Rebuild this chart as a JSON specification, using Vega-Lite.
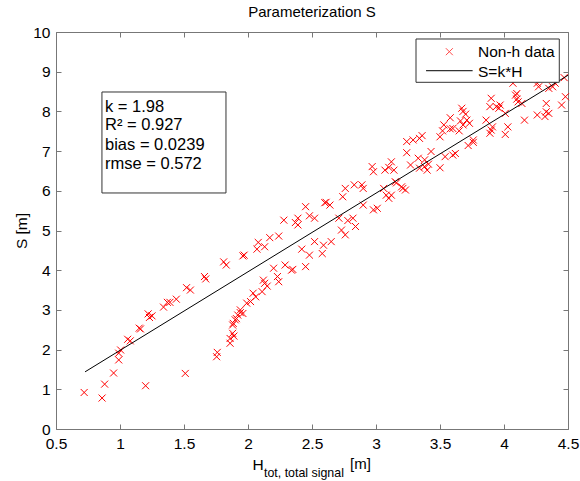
{
  "$schema": "https://vega.github.io/schema/vega-lite/v6.json",
  "width": 512,
  "height": 397,
  "autosize": "none",
  "padding": {"left": 56, "top": 32, "right": 12, "bottom": 52},
  "background": "white",
  "config": {
    "view": {"stroke": "#777777", "strokeWidth": 1},
    "font": "Liberation Sans",
    "axis": {"grid": false, "domain": false, "tickColor": "#777777", "tickSize": -5, "labelFont": "Liberation Sans", "labelFontSize": 15.5, "labelColor": "black", "titleFont": "Liberation Sans", "titleFontWeight": "normal", "titleColor": "black", "titleFontSize": 15.5}
  },
  "datasets": {
    "pts": [
      {"H":0.72,"S":0.92},{"H":0.86,"S":0.78},{"H":0.88,"S":1.13},{"H":0.95,"S":1.41},{"H":0.99,"S":1.74},{"H":0.99,"S":1.91},{"H":1.005,"S":1.99},{"H":1.06,"S":2.26},{"H":1.08,"S":2.22},{"H":1.15,"S":2.54},{"H":1.16,"S":2.52},{"H":1.2,"S":1.09},{"H":1.22,"S":2.9},{"H":1.23,"S":2.81},{"H":1.25,"S":2.85},{"H":1.34,"S":3.07},{"H":1.37,"S":3.19},{"H":1.39,"S":3.19},{"H":1.44,"S":3.27},{"H":1.51,"S":1.4},{"H":1.52,"S":3.56},{"H":1.55,"S":3.5},{"H":1.66,"S":3.84},{"H":1.67,"S":3.78},{"H":1.755,"S":1.82},{"H":1.76,"S":1.93},{"H":1.81,"S":4.21},{"H":1.83,"S":4.13},{"H":1.86,"S":2.16},{"H":1.86,"S":2.28},{"H":1.89,"S":2.34},{"H":1.88,"S":2.41},{"H":1.88,"S":2.62},{"H":1.885,"S":2.66},{"H":1.9,"S":2.75},{"H":1.91,"S":2.78},{"H":1.92,"S":2.87},{"H":1.94,"S":3.0},{"H":1.94,"S":2.93},{"H":1.96,"S":2.91},{"H":1.96,"S":4.36},{"H":1.97,"S":4.38},{"H":1.99,"S":3.17},{"H":2.02,"S":3.21},{"H":2.04,"S":3.42},{"H":2.06,"S":3.33},{"H":2.07,"S":4.53},{"H":2.08,"S":4.7},{"H":2.11,"S":3.46},{"H":2.12,"S":3.75},{"H":2.13,"S":3.67},{"H":2.13,"S":4.59},{"H":2.15,"S":3.6},{"H":2.17,"S":4.82},{"H":2.2,"S":4.05},{"H":2.23,"S":3.84},{"H":2.24,"S":3.71},{"H":2.24,"S":4.86},{"H":2.28,"S":5.26},{"H":2.29,"S":4.13},{"H":2.34,"S":4.0},{"H":2.35,"S":4.02},{"H":2.37,"S":5.2},{"H":2.39,"S":5.31},{"H":2.39,"S":5.14},{"H":2.42,"S":4.53},{"H":2.45,"S":5.6},{"H":2.45,"S":4.09},{"H":2.48,"S":5.37},{"H":2.48,"S":4.38},{"H":2.52,"S":5.31},{"H":2.52,"S":4.72},{"H":2.58,"S":4.42},{"H":2.59,"S":4.63},{"H":2.6,"S":5.7},{"H":2.61,"S":5.71},{"H":2.64,"S":5.64},{"H":2.65,"S":4.72},{"H":2.71,"S":5.31},{"H":2.73,"S":5.01},{"H":2.74,"S":5.85},{"H":2.76,"S":4.89},{"H":2.76,"S":6.06},{"H":2.78,"S":5.25},{"H":2.82,"S":5.31},{"H":2.83,"S":6.15},{"H":2.84,"S":5.1},{"H":2.89,"S":6.15},{"H":2.9,"S":6.06},{"H":2.9,"S":5.64},{"H":2.97,"S":6.61},{"H":2.98,"S":6.48},{"H":2.98,"S":5.52},{"H":3.01,"S":5.56},{"H":3.06,"S":6.06},{"H":3.07,"S":6.52},{"H":3.08,"S":5.89},{"H":3.1,"S":6.59},{"H":3.1,"S":5.81},{"H":3.12,"S":6.73},{"H":3.12,"S":5.89},{"H":3.14,"S":6.52},{"H":3.15,"S":6.23},{"H":3.16,"S":6.2},{"H":3.2,"S":6.1},{"H":3.21,"S":6.06},{"H":3.23,"S":6.02},{"H":3.24,"S":7.24},{"H":3.24,"S":6.96},{"H":3.27,"S":6.65},{"H":3.29,"S":7.28},{"H":3.33,"S":6.82},{"H":3.34,"S":7.32},{"H":3.34,"S":6.57},{"H":3.36,"S":7.39},{"H":3.38,"S":6.61},{"H":3.38,"S":6.78},{"H":3.4,"S":6.52},{"H":3.41,"S":6.67},{"H":3.43,"S":6.99},{"H":3.5,"S":6.58},{"H":3.5,"S":7.36},{"H":3.52,"S":7.51},{"H":3.53,"S":7.66},{"H":3.54,"S":6.86},{"H":3.58,"S":7.84},{"H":3.58,"S":7.56},{"H":3.6,"S":7.57},{"H":3.6,"S":6.9},{"H":3.62,"S":6.94},{"H":3.65,"S":7.51},{"H":3.66,"S":7.76},{"H":3.67,"S":8.08},{"H":3.68,"S":7.66},{"H":3.68,"S":8.0},{"H":3.7,"S":7.93},{"H":3.71,"S":7.78},{"H":3.72,"S":7.14},{"H":3.73,"S":7.7},{"H":3.76,"S":7.22},{"H":3.76,"S":7.28},{"H":3.86,"S":7.78},{"H":3.89,"S":7.45},{"H":3.89,"S":8.12},{"H":3.9,"S":8.33},{"H":3.9,"S":7.53},{"H":3.91,"S":7.61},{"H":3.94,"S":8.12},{"H":3.96,"S":8.08},{"H":3.97,"S":8.16},{"H":4.01,"S":7.42},{"H":4.01,"S":7.95},{"H":4.03,"S":7.61},{"H":4.07,"S":8.71},{"H":4.09,"S":8.41},{"H":4.1,"S":8.31},{"H":4.1,"S":8.45},{"H":4.11,"S":8.24},{"H":4.14,"S":8.2},{"H":4.16,"S":7.78},{"H":4.26,"S":7.91},{"H":4.26,"S":8.71},{"H":4.27,"S":8.62},{"H":4.32,"S":7.87},{"H":4.33,"S":7.99},{"H":4.33,"S":8.2},{"H":4.35,"S":7.95},{"H":4.35,"S":8.58},{"H":4.38,"S":8.62},{"H":4.4,"S":8.71},{"H":4.45,"S":8.16},{"H":4.47,"S":8.85},{"H":4.48,"S":8.37}
    ],
    "fit": [{"H": 0.727, "S": 1.44}, {"H": 4.5, "S": 8.91}],
    "one": [{}]
  },
  "layer": [
    {
      "data": {"name": "pts"},
      "mark": {"type": "point", "shape": "M-1,-1L1,1M-1,1L1,-1", "filled": false, "size": 49, "strokeWidth": 1, "color": "#ff0000", "opacity": 1},
      "encoding": {
        "x": {"field": "H", "type": "quantitative", "scale": {"domain": [0.5, 4.5], "nice": false, "zero": false},
              "axis": {"orient": "bottom", "values": [0.5,1,1.5,2,2.5,3,3.5,4,4.5], "format": "~g", "labelPadding": 12, "title": null, "labelFlush": false}},
        "y": {"field": "S", "type": "quantitative", "scale": {"domain": [0, 10], "nice": false, "zero": false},
              "axis": {"orient": "left", "values": [0,1,2,3,4,5,6,7,8,9,10], "format": "d", "labelPadding": 11, "title": "S [m]", "titlePadding": 3, "labelFlush": false}}
      }
    },
    {
      "data": {"name": "fit"},
      "mark": {"type": "line", "color": "black", "strokeWidth": 1},
      "encoding": {
        "x": {"field": "H", "type": "quantitative", "axis": {"orient": "top", "values": [0.5,1,1.5,2,2.5,3,3.5,4,4.5], "labels": false, "title": null}},
        "y": {"field": "S", "type": "quantitative", "axis": {"orient": "right", "values": [0,1,2,3,4,5,6,7,8,9,10], "labels": false, "title": null}}
      }
    },
    {
      "data": {"name": "one"},
      "mark": {"type": "rect", "fill": "white", "stroke": "#333333", "strokeWidth": 1},
      "encoding": {"x": {"datum": 0.859, "axis": null}, "x2": {"datum": 1.828}, "y": {"datum": 8.489, "axis": null}, "y2": {"datum": 5.945}}
    },
    {
      "data": {"name": "one"},
      "mark": {"type": "text", "align": "left", "baseline": "alphabetic", "fontSize": 16.5, "font": "Liberation Sans", "color": "black"},
      "encoding": {"x": {"datum": 0.883, "axis": null}, "y": {"datum": 7.985, "axis": null}, "text": {"value": "k = 1.98"}}
    },
    {
      "data": {"name": "one"},
      "mark": {"type": "text", "align": "left", "baseline": "alphabetic", "fontSize": 16.5, "font": "Liberation Sans", "color": "black"},
      "encoding": {"x": {"datum": 0.883, "axis": null}, "y": {"datum": 7.532, "axis": null}, "text": {"value": "R² = 0.927"}}
    },
    {
      "data": {"name": "one"},
      "mark": {"type": "text", "align": "left", "baseline": "alphabetic", "fontSize": 16.5, "font": "Liberation Sans", "color": "black"},
      "encoding": {"x": {"datum": 0.883, "axis": null}, "y": {"datum": 7.028, "axis": null}, "text": {"value": "bias = 0.0239"}}
    },
    {
      "data": {"name": "one"},
      "mark": {"type": "text", "align": "left", "baseline": "alphabetic", "fontSize": 16.5, "font": "Liberation Sans", "color": "black"},
      "encoding": {"x": {"datum": 0.883, "axis": null}, "y": {"datum": 6.549, "axis": null}, "text": {"value": "rmse = 0.572"}}
    },
    {
      "data": {"name": "one"},
      "mark": {"type": "rect", "fill": "white", "stroke": "#333333", "strokeWidth": 1},
      "encoding": {"x": {"datum": 3.3125, "axis": null}, "x2": {"datum": 4.432}, "y": {"datum": 9.824, "axis": null}, "y2": {"datum": 8.733}}
    },
    {
      "data": {"name": "one"},
      "mark": {"type": "point", "shape": "M-1,-1L1,1M-1,1L1,-1", "filled": false, "size": 49, "strokeWidth": 1, "color": "#ff0000"},
      "encoding": {"x": {"datum": 3.573, "axis": null}, "y": {"datum": 9.504, "axis": null}}
    },
    {
      "data": {"name": "one"},
      "mark": {"type": "rule", "color": "black", "strokeWidth": 1},
      "encoding": {"x": {"datum": 3.391, "axis": null}, "x2": {"datum": 3.755}, "y": {"datum": 9.025, "axis": null}}
    },
    {
      "data": {"name": "one"},
      "mark": {"type": "text", "align": "left", "baseline": "alphabetic", "fontSize": 15.5, "font": "Liberation Sans", "color": "black"},
      "encoding": {"x": {"datum": 3.797, "axis": null}, "y": {"datum": 9.378, "axis": null}, "text": {"value": "Non-h data"}}
    },
    {
      "data": {"name": "one"},
      "mark": {"type": "text", "align": "left", "baseline": "alphabetic", "fontSize": 15.5, "font": "Liberation Sans", "color": "black"},
      "encoding": {"x": {"datum": 3.797, "axis": null}, "y": {"datum": 8.874, "axis": null}, "text": {"value": "S=k*H"}}
    },
    {
      "data": {"name": "one"},
      "mark": {"type": "text", "align": "left", "baseline": "alphabetic", "fontSize": 15.5, "font": "Liberation Sans", "color": "black"},
      "encoding": {"x": {"datum": 2.036, "axis": null}, "y": {"datum": -1.03, "axis": null}, "text": {"value": "H"}}
    },
    {
      "data": {"name": "one"},
      "mark": {"type": "text", "align": "left", "baseline": "alphabetic", "fontSize": 12.4, "font": "Liberation Sans", "color": "black"},
      "encoding": {"x": {"datum": 2.125, "axis": null}, "y": {"datum": -1.2, "axis": null}, "text": {"value": "tot, total signal"}}
    },
    {
      "data": {"name": "one"},
      "mark": {"type": "text", "align": "left", "baseline": "alphabetic", "fontSize": 15, "font": "Liberation Sans", "color": "black"},
      "encoding": {"x": {"datum": 2.797, "axis": null}, "y": {"datum": -1.02, "axis": null}, "text": {"value": "[m]"}}
    },
    {
      "data": {"name": "one"},
      "mark": {"type": "text", "align": "center", "baseline": "alphabetic", "fontSize": 15, "font": "Liberation Sans", "color": "black"},
      "encoding": {"x": {"datum": 2.5, "axis": null}, "y": {"datum": 10.378, "axis": null}, "text": {"value": "Parameterization S"}}
    }
  ],
  "resolve": {"axis": {"x": "independent", "y": "independent"}}
}
